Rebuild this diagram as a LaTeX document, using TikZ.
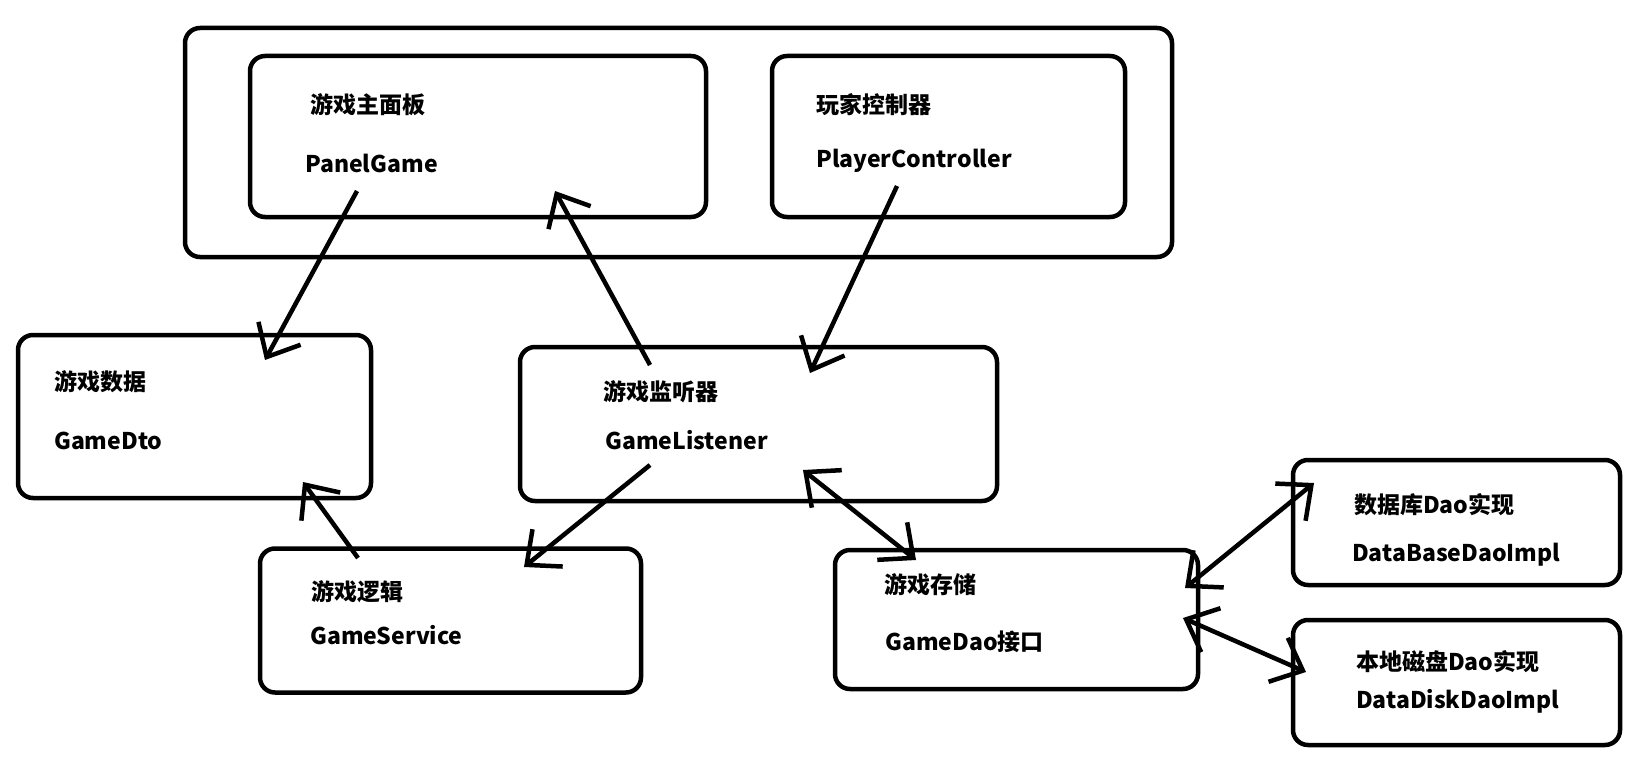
\documentclass[tikz,border=0pt]{standalone}
\usepackage{fontspec}
\usepackage{tikz}
\usetikzlibrary{positioning,arrows.meta}
\newfontfamily\cjk{Noto Sans CJK SC}
\newcommand*{\lbl}{\cjk\bfseries\fontsize{23}{27}\selectfont}

\begin{document}
\begin{tikzpicture}[x=1pt,y=-1pt,
  box/.style={draw,line width=4.5pt,rounded corners=15pt,inner sep=0pt},
  txt/.style={anchor=west,inner sep=0pt,font=\lbl},
  link/.style={line width=4.5pt},
  >={Straight Barb[length=27pt,width=48pt]}]
\useasboundingbox (0,0) rectangle (1633,760);
% Boxes
\node[box,minimum width=987pt,minimum height=229pt] (frame) at (678.5,142.5) {};
\node[box,minimum width=456pt,minimum height=161pt] (panel) at (478,136.5) {};
\node[box,minimum width=353pt,minimum height=161pt] (player) at (948.5,136.5) {};
\node[box,minimum width=353pt,minimum height=163pt] (dto) at (194.5,416.5) {};
\node[box,minimum width=477pt,minimum height=154pt] (listener) at (758.5,424) {};
\node[box,minimum width=381pt,minimum height=144pt] (service) at (450.5,620.5) {};
\node[box,minimum width=363pt,minimum height=139pt] (dao) at (1016.5,619.5) {};
\node[box,minimum width=327pt,minimum height=125pt] (database) at (1456.5,522.5) {};
\node[box,minimum width=327pt,minimum height=125pt] (disk) at (1456.5,682.5) {};
% Texts
\node[txt] (panel-cn) at (310,105) {游戏主面板};
\node[txt] (panel-en) at (305,163) {PanelGame};
\node[txt] (player-cn) at (816,105) {玩家控制器};
\node[txt] (player-en) at (816,161) {PlayerController};
\node[txt] (dto-cn) at (54,382) {游戏数据};
\node[txt] (dto-en) at (54,441) {GameDto};
\node[txt] (listener-cn) at (603,392) {游戏监听器};
\node[txt] (listener-en) at (605,440) {GameListener};
\node[txt] (service-cn) at (311,592) {游戏逻辑};
\node[txt] (service-en) at (310,635) {GameService};
\node[txt] (dao-cn) at (884,585) {游戏存储};
\node[txt] (dao-en) at (885,642) {GameDao接口};
\node[txt] (database-cn) at (1354,505) {数据库Dao实现};
\node[txt] (database-en) at (1352,555) {DataBaseDaoImpl};
\node[txt] (disk-cn) at (1356,662) {本地磁盘Dao实现};
\node[txt] (disk-en) at (1356,701) {DataDiskDaoImpl};
% Ends of the arrows
\coordinate (pg-a) at (357,191);   \coordinate (dto-a) at (265,360);
\coordinate (gl-a) at (650,365);   \coordinate (pg-b) at (555,191);
\coordinate (pc-a) at (897,186);   \coordinate (gl-b) at (810,373);
\coordinate (gl-c) at (650,465);   \coordinate (gs-a) at (524,567);
\coordinate (gs-b) at (358,558);   \coordinate (dto-b) at (303,482);
\coordinate (gl-d) at (803,470);   \coordinate (dao-a) at (916,560);
\coordinate (dao-b) at (1185,588); \coordinate (db-a) at (1314,483);
\coordinate (dao-c) at (1183,618); \coordinate (disk-a) at (1306,672);
% Arrows
\draw[link,->] (pg-a) -- (dto-a);
\draw[link,->] (gl-a) -- (pg-b);
\draw[link,->] (pc-a) -- (gl-b);
\draw[link,->] (gl-c) -- (gs-a);
\draw[link,->] (gs-b) -- (dto-b);
\draw[link,<->] (gl-d) -- (dao-a);
\draw[link,<->] (dao-b) -- (db-a);
\draw[link,<->] (dao-c) -- (disk-a);
\end{tikzpicture}
\end{document}
